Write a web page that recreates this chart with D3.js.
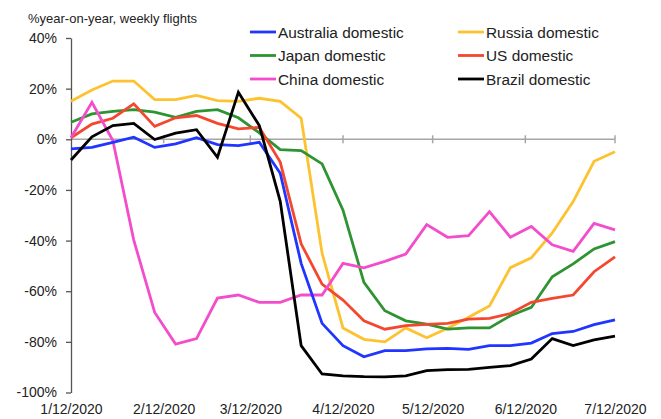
<!DOCTYPE html>
<html><head><meta charset="utf-8">
<script src="https://cdn.jsdelivr.net/npm/d3@7"></script>
<style>
body{margin:0;background:#fff;}
text{font-family:"Liberation Sans",Arial,sans-serif;fill:#222;}
</style></head>
<body><svg id="c" width="661" height="419"></svg>
<script>
const startDate = "2020-01-12";
const weeks = 27;
const tickLabels = ["1/12/2020","2/12/2020","3/12/2020","4/12/2020","5/12/2020","6/12/2020","7/12/2020"];
const yTicks = [40,20,0,-20,-40,-60,-80,-100];
const seriesNames = ["Australia domestic","Japan domestic","China domestic","Russia domestic","US domestic","Brazil domestic"];
const seriesColors = ["#2035ff","#2e9431","#f44dcc","#fdc22f","#f4472f","#000000"];
const australia = [-3.8,-3.2,-1.2,0.8,-3.2,-1.8,0.6,-2.1,-2.5,-1.2,-13.4,-49,-72.7,-81.5,-85.9,-83.5,-83.5,-82.8,-82.6,-83,-81.5,-81.5,-80.5,-76.7,-75.9,-73.2,-71.3];
const japan = [6.7,10,11,11.7,10.7,8.7,11,11.7,8.5,2.5,-4.1,-4.5,-9.7,-28,-56.5,-67.7,-71.7,-73,-75,-74.5,-74.5,-69.7,-66.4,-54.3,-49.2,-43.3,-40.4];
const china = [0.6,14.6,-0.5,-39.8,-68.4,-80.9,-78.7,-62.7,-61.5,-64.4,-64.4,-61.5,-61.5,-49,-50.8,-48.2,-45.3,-33.7,-38.7,-38.1,-28.6,-38.7,-34.4,-41.7,-44.3,-33.2,-35.8];
const russia = [15,19.5,23,23,15.7,15.7,17.3,15.3,15,16.2,15,8.3,-45,-74.5,-79,-80,-74.5,-78.4,-74.6,-70.3,-65.8,-50.7,-46.8,-37,-24.6,-8.7,-4.9];
const us = [0.6,6,8.3,14,5.1,8.5,9.4,6.3,4.1,4.7,-9,-41.3,-57.2,-63.5,-71.7,-75,-73.6,-73.1,-72.7,-71,-70.7,-68.8,-64.4,-62.8,-61.5,-52.3,-46.4];
const brazil = [-8.2,1,5.4,6.3,-0.1,2.4,3.8,-7.1,18.6,5.4,-24.5,-81.5,-92.7,-93.4,-93.7,-93.8,-93.4,-91.4,-91,-90.9,-90.1,-89.4,-86.8,-78.7,-81.5,-79.2,-77.7];
const seriesValues = [australia,japan,china,russia,us,brazil];

const svg = d3.select("#c");
const parse = d3.timeParse("%Y-%m-%d");
const t0 = parse(startDate);
const dates = d3.range(weeks).map(i => d3.timeDay.offset(t0, 7*i));
const tickDates = tickLabels.map(d3.timeParse("%m/%d/%Y"));

const x = d3.scaleTime().domain([dates[0], dates[dates.length-1]]).range([71, 615]);
const y = d3.scaleLinear().domain([-100, 40]).range([392.5, 38]);

// zero axis with cross ticks
const zg = svg.append("g");
zg.append("line").attr("x1", x.range()[0]).attr("x2", x.range()[1]).attr("y1", y(0)).attr("y2", y(0))
  .attr("stroke", "#a6a6a6").attr("stroke-width", 1.5);
zg.selectAll("line.t").data(tickDates.slice(1)).join("line").attr("class","t")
  .attr("x1", d => x(d)).attr("x2", d => x(d)).attr("y1", y(0)-4).attr("y2", y(0)+4)
  .attr("stroke", "#a6a6a6").attr("stroke-width", 1.5);

// x labels at bottom
const xa = svg.append("g").attr("transform", `translate(0,${y(-100)})`)
  .call(d3.axisBottom(x).tickValues(tickDates).tickFormat((d,i) => tickLabels[i]).tickSize(0).tickPadding(12));
xa.select(".domain").remove();
xa.selectAll("text").attr("font-size", 14).attr("fill", "#222").style("font-family", '"Liberation Sans",Arial,sans-serif');

// y axis
const ya = svg.append("g").attr("transform", "translate(71,0)")
  .call(d3.axisLeft(y).tickValues(yTicks).tickFormat(d => d + "%").tickSize(5).tickSizeOuter(0).tickPadding(9));
ya.select(".domain").attr("stroke", "#555").attr("stroke-width", 1.3);
ya.selectAll(".tick line").attr("stroke", "#555").attr("stroke-width", 1.3);
ya.selectAll("text").attr("font-size", 14).attr("fill", "#222").style("font-family", '"Liberation Sans",Arial,sans-serif');

// title
svg.append("text").attr("x", 28).attr("y", 23).attr("font-size", 13).text("%year-on-year, weekly flights");

// lines
const line = d3.line().x((d,i) => x(dates[i])).y(d => y(d));
const order = [3,1,4,2,0,5];
order.forEach(k => {
  svg.append("path").datum(seriesValues[k]).attr("d", line)
    .attr("fill", "none").attr("stroke", seriesColors[k]).attr("stroke-width", 2.8)
    .attr("stroke-linejoin", "miter");
});

// legend
const lg = svg.append("g");
seriesNames.forEach((name, k) => {
  const col = Math.floor(k/3), row = k % 3;
  const lx = col === 0 ? 250 : 458;
  const ly = 32 + row*23.5;
  lg.append("line").attr("x1", lx).attr("x2", lx+26).attr("y1", ly).attr("y2", ly)
    .attr("stroke", seriesColors[k]).attr("stroke-width", 2.8);
  lg.append("text").attr("x", lx+28).attr("y", ly).attr("dy", "0.36em").attr("font-size", 15.4).text(name);
});
</script></body></html>
